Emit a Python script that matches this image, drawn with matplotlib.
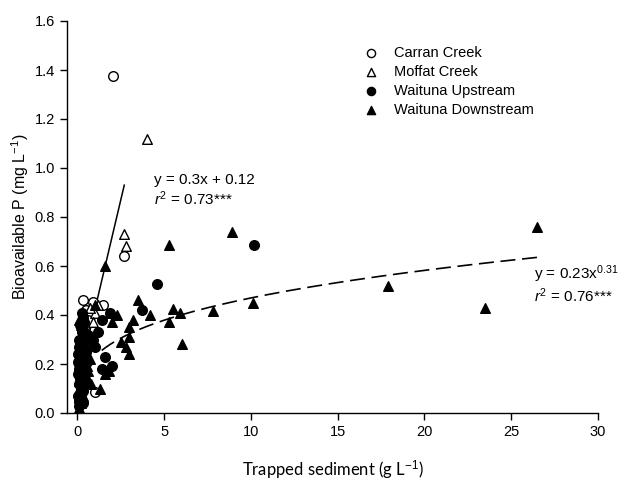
import matplotlib
matplotlib.use("Agg")
import matplotlib.pyplot as plt
import numpy as np

plt.rcParams['font.family'] = ['Liberation Sans', 'DejaVu Sans']
plt.rcParams['mathtext.fontset'] = 'custom'
plt.rcParams['mathtext.rm'] = 'Liberation Sans'
plt.rcParams['mathtext.it'] = 'Liberation Sans:italic'
plt.rcParams['mathtext.bf'] = 'Liberation Sans:bold'

# ---- data ----
carran_x = [2.05, 2.7, 0.3, 0.9, 1.5, 0.5, 0.8, 0.35, 0.2, 0.15, 0.4, 1.0, 0.6, 0.25, 0.1, 0.3, 0.45, 0.2]
carran_y = [1.375, 0.64, 0.46, 0.455, 0.44, 0.42, 0.40, 0.385, 0.30, 0.29, 0.35, 0.085, 0.38, 0.22, 0.20, 0.27, 0.31, 0.36]

moffat_x = [4.0, 2.7, 2.8, 1.2, 1.0, 0.7, 0.5, 0.3, 0.2, 0.9]
moffat_y = [1.12, 0.73, 0.68, 0.44, 0.41, 0.43, 0.30, 0.25, 0.16, 0.37]

up_x = [10.2, 4.6, 3.7, 1.9, 1.4, 1.2, 1.0, 1.6, 2.0, 1.4, 0.9,
        0.1, 0.2, 0.15, 0.3, 0.1, 0.4, 0.2, 0.5, 0.3, 0.1, 0.6, 0.25, 0.2, 0.35, 0.05,
        0.45, 0.15, 0.55, 0.3, 0.05, 0.4,
        0.1, 0.2, 0.3, 0.4, 0.15, 0.25, 0.35, 0.05, 0.2, 0.3, 0.1, 0.4, 0.5, 0.25, 0.15, 0.35,
        0.2, 0.1, 0.3, 0.45, 0.05, 0.25]
up_y = [0.685, 0.525, 0.42, 0.41, 0.38, 0.33, 0.27, 0.23, 0.19, 0.18, 0.30,
        0.05, 0.08, 0.12, 0.15, 0.18, 0.20, 0.22, 0.25, 0.28, 0.30, 0.32, 0.35, 0.10, 0.13, 0.07,
        0.17, 0.26, 0.21, 0.04, 0.24, 0.37,
        0.03, 0.06, 0.09, 0.11, 0.14, 0.16, 0.19, 0.21, 0.23, 0.26, 0.27, 0.29, 0.31, 0.33, 0.36, 0.39,
        0.05, 0.12, 0.20, 0.14, 0.16, 0.41]

down_x = [26.5, 23.5, 17.9, 8.9, 10.1, 7.8, 5.9, 5.5, 5.3, 5.3, 6.0, 4.2, 1.6, 3.5,
          3.2, 3.0, 3.0, 2.8, 3.0, 2.5, 1.9, 2.3, 2.0, 1.0, 0.1, 0.2, 1.3, 1.6, 1.8,
          0.1, 0.2, 0.3, 0.15, 0.4, 0.5, 0.3, 0.6, 0.7, 0.8, 0.05, 0.25, 0.35, 0.5, 0.1,
          0.2, 0.3, 0.1, 0.4, 0.25, 0.15, 0.35, 0.45, 0.2, 0.3, 0.55, 0.1]
down_y = [0.76, 0.43, 0.52, 0.74, 0.45, 0.415, 0.41, 0.425, 0.685, 0.37, 0.28, 0.40, 0.60, 0.46,
          0.38, 0.35, 0.31, 0.27, 0.24, 0.29, 0.41, 0.40, 0.37, 0.44, 0.38, 0.36, 0.10, 0.16, 0.17,
          0.06, 0.10, 0.14, 0.20, 0.24, 0.27, 0.31, 0.17, 0.22, 0.12, 0.09, 0.28, 0.19, 0.33, 0.25,
          0.04, 0.07, 0.13, 0.15, 0.18, 0.22, 0.25, 0.29, 0.32, 0.34, 0.19, 0.02]

lin_slope, lin_int = 0.3, 0.12
lin_range = [0.0, 2.7]
pow_a, pow_b = 0.23, 0.31
pow_range = [1.4, 26.5]

xticks = [0, 5, 10, 15, 20, 25, 30]
yticks = [0.0, 0.2, 0.4, 0.6, 0.8, 1.0, 1.2, 1.4, 1.6]

# ---- figure ----
fig = plt.figure(figsize=(6.42, 4.87), dpi=100)
ax = fig.add_axes([67/642, 1-413/487, (598-67)/642, (413-21)/487])

ms = 48
ax.scatter(carran_x, carran_y, s=ms, marker='o', facecolors='white', edgecolors='black', linewidths=1, label='Carran Creek', zorder=3)
ax.scatter(moffat_x, moffat_y, s=ms, marker='^', facecolors='white', edgecolors='black', linewidths=1, label='Moffat Creek', zorder=3)
ax.scatter(up_x, up_y, s=ms, marker='o', facecolors='black', edgecolors='black', linewidths=1, label='Waituna Upstream', zorder=3)
ax.scatter(down_x, down_y, s=ms, marker='^', facecolors='black', edgecolors='black', linewidths=1, label='Waituna Downstream', zorder=3)

lx = np.linspace(lin_range[0], lin_range[1], 10)
ax.plot(lx, lin_slope*lx + lin_int, color='black', lw=1.1, zorder=2)
px = np.linspace(pow_range[0], pow_range[1], 200)
ax.plot(px, pow_a*px**pow_b, color='black', lw=1.2, dashes=(9, 4), zorder=2)

tfs = 11
ax.text(4.4, 0.95, 'y = 0.3x + 0.12', fontsize=tfs, va='center')
ax.text(4.4, 0.875, r'$r^2$ = 0.73***', fontsize=tfs, va='center')
ax.text(26.3, 0.565, r'y = 0.23x$^{0.31}$', fontsize=tfs, va='center')
ax.text(26.3, 0.478, r'$r^2$ = 0.76***', fontsize=tfs, va='center')

ax.set_xlim(-0.6, 30)
ax.set_ylim(0, 1.6)
ax.set_xticks(xticks)
ax.set_yticks(yticks)
ax.set_yticklabels([f'{v:.1f}' for v in yticks])
ax.tick_params(direction='out', length=5, width=1, labelsize=10.5)
for s in ['top', 'right']:
    ax.spines[s].set_visible(False)
for s in ['left', 'bottom']:
    ax.spines[s].set_linewidth(1)

ax.set_ylabel('Bioavailable P (mg L$^{-1}$)', fontsize=11.5, labelpad=3)
ax.set_xlabel('Trapped sediment (g L$^{-1}$)', fontsize=12, family=['Lato', 'DejaVu Sans'], labelpad=14)

ax.legend(loc='upper left', bbox_to_anchor=(0.52, 0.97), frameon=False, fontsize=10.5,
          handletextpad=0.6, labelspacing=0.35, scatterpoints=1, markerscale=0.85)

fig.savefig('out.png', dpi=100)
